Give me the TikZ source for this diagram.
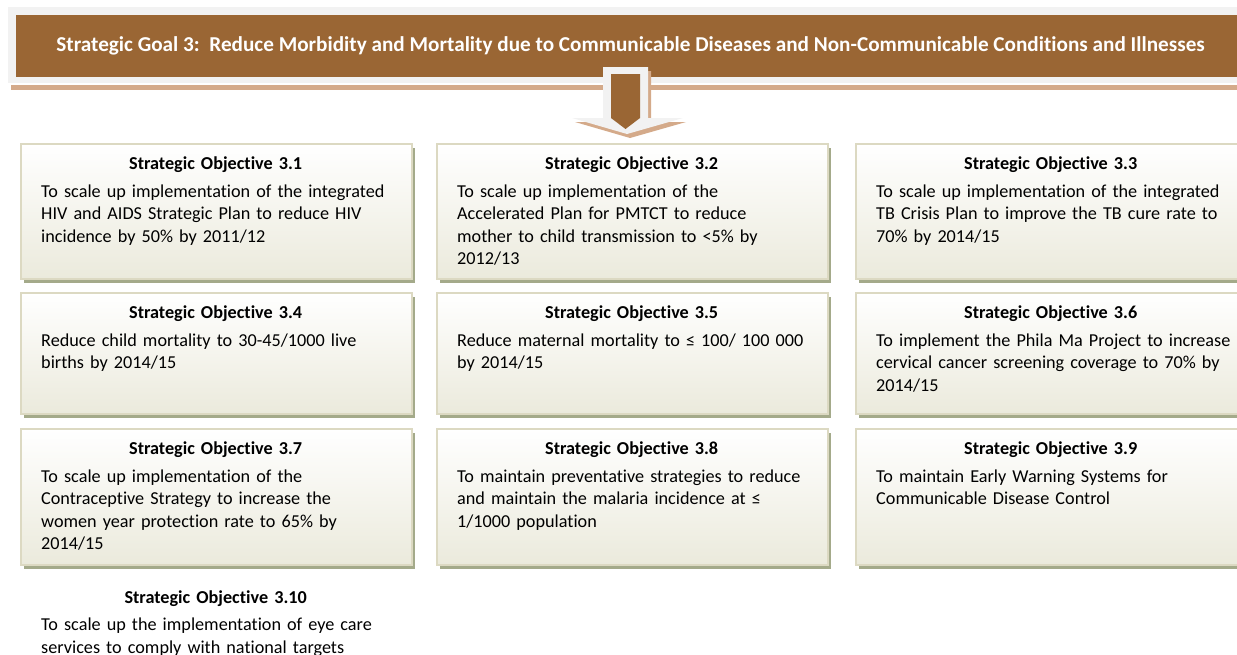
\documentclass[tikz,border=0pt]{standalone}
\usepackage{fontspec}
\setmainfont{Carlito}[Ligatures=NoCommon]
\usetikzlibrary{positioning,shadows}

\definecolor{goalbrown}{RGB}{154,102,52}
\definecolor{framegray}{RGB}{242,242,242}
\definecolor{tanshade}{RGB}{212,170,138}
\definecolor{boxline}{RGB}{220,217,194}
\definecolor{boxfill}{RGB}{235,234,220}
\definecolor{oliveshade}{RGB}{164,170,138}

% heading line of an objective, centred over the box
\newcommand{\objhead}[1]{\makebox[349pt]{\bfseries Strategic Objective #1}\\[4.5pt]}

\begin{document}
\begin{tikzpicture}[x=1pt, y=-1pt,
    % Node styles
    goal/.style={fill=goalbrown, text=white, font=\fontsize{21.2}{25}\selectfont\bfseries, minimum width=1229, minimum height=62, inner sep=0},
    objbox/.style={draw=boxline, line width=1.5pt, top color=white, bottom color=boxfill, minimum width=391, inner sep=0, anchor=north west,
        drop shadow={shadow xshift=3pt, shadow yshift=-4pt, fill=oliveshade, opacity=1}},
    objtext/.style={text width=372, align=left, inner sep=0, font=\fontsize{18.2}{22.6}\selectfont},
    rowone/.style={objbox, minimum height=135},
    rowtwo/.style={objbox, minimum height=121},
    rowthree/.style={objbox, minimum height=136}
]
\useasboundingbox (0,0) rectangle (1237,654);
\clip (0,0) rectangle (1237,654);

% Goal banner
\fill[tanshade] (11,85) rectangle (1245,90);
\node[fill=framegray, minimum width=1237, minimum height=76, inner sep=0, anchor=north west] (frame) at (8,7) {};
\node[goal] (goal) at (630.5,46) {Strategic Goal 3:\ \ Reduce Morbidity and Mortality due to Communicable Diseases and Non-Communicable Conditions and Illnesses};

% Block arrow down from the goal
\fill[tanshade] (606,71) -- (651,71) -- (651,122) -- (686,122) -- (630,138) -- (575,122) -- (606,122) -- cycle;
\fill[framegray] (603,67) -- (648,67) -- (648,118) -- (683,118) -- (627,134) -- (572,118) -- (603,118) -- cycle;
\fill[goalbrown] (611,74) -- (640,74) -- (640,118) -- (625.5,129) -- (611,118) -- cycle;

% Objective boxes
\node[rowone] (o31) at (20,143) {};
\node[rowone] (o32) at (436,143) {};
\node[rowone] (o33) at (855,143) {};
\node[rowtwo] (o34) at (20,292) {};
\node[rowtwo] (o35) at (436,292) {};
\node[rowtwo] (o36) at (855,292) {};
\node[rowthree] (o37) at (20,428) {};
\node[rowthree] (o38) at (436,428) {};
\node[rowthree] (o39) at (855,428) {};

% Objective texts
\node[objtext, below right=14pt and 21pt of o31.north west] (t31) {\objhead{3.1}To scale up implementation of the integrated\\HIV and AIDS Strategic Plan to reduce HIV\\incidence by 50\% by 2011/12};
\node[objtext, below right=14pt and 21pt of o32.north west] (t32) {\objhead{3.2}To scale up implementation of the\\Accelerated Plan for PMTCT to reduce\\mother to child transmission to <5\% by\\2012/13};
\node[objtext, below right=14pt and 21pt of o33.north west] (t33) {\objhead{3.3}To scale up implementation of the integrated\\TB Crisis Plan to improve the TB cure rate to\\70\% by 2014/15};
\node[objtext, below right=14pt and 21pt of o34.north west] (t34) {\objhead{3.4}Reduce child mortality to 30-45/1000 live\\births by 2014/15};
\node[objtext, below right=14pt and 21pt of o35.north west] (t35) {\objhead{3.5}Reduce maternal mortality to ≤ 100/ 100 000\\by 2014/15};
\node[objtext, below right=14pt and 21pt of o36.north west] (t36) {\objhead{3.6}To implement the Phila Ma Project to increase\\cervical cancer screening coverage to 70\% by\\2014/15};
\node[objtext, below right=14pt and 21pt of o37.north west] (t37) {\objhead{3.7}To scale up implementation of the\\Contraceptive Strategy to increase the\\women year protection rate to 65\% by\\2014/15};
\node[objtext, below right=14pt and 21pt of o38.north west] (t38) {\objhead{3.8}To maintain preventative strategies to reduce\\and maintain the malaria incidence at ≤\\1/1000 population};
\node[objtext, below right=14pt and 21pt of o39.north west] (t39) {\objhead{3.9}To maintain Early Warning Systems for\\Communicable Disease Control};
\node[objtext, below right=25pt and 21pt of o37.south west] (t310) {\objhead{3.10}To scale up the implementation of eye care\\services to comply with national targets};

\end{tikzpicture}
\end{document}
